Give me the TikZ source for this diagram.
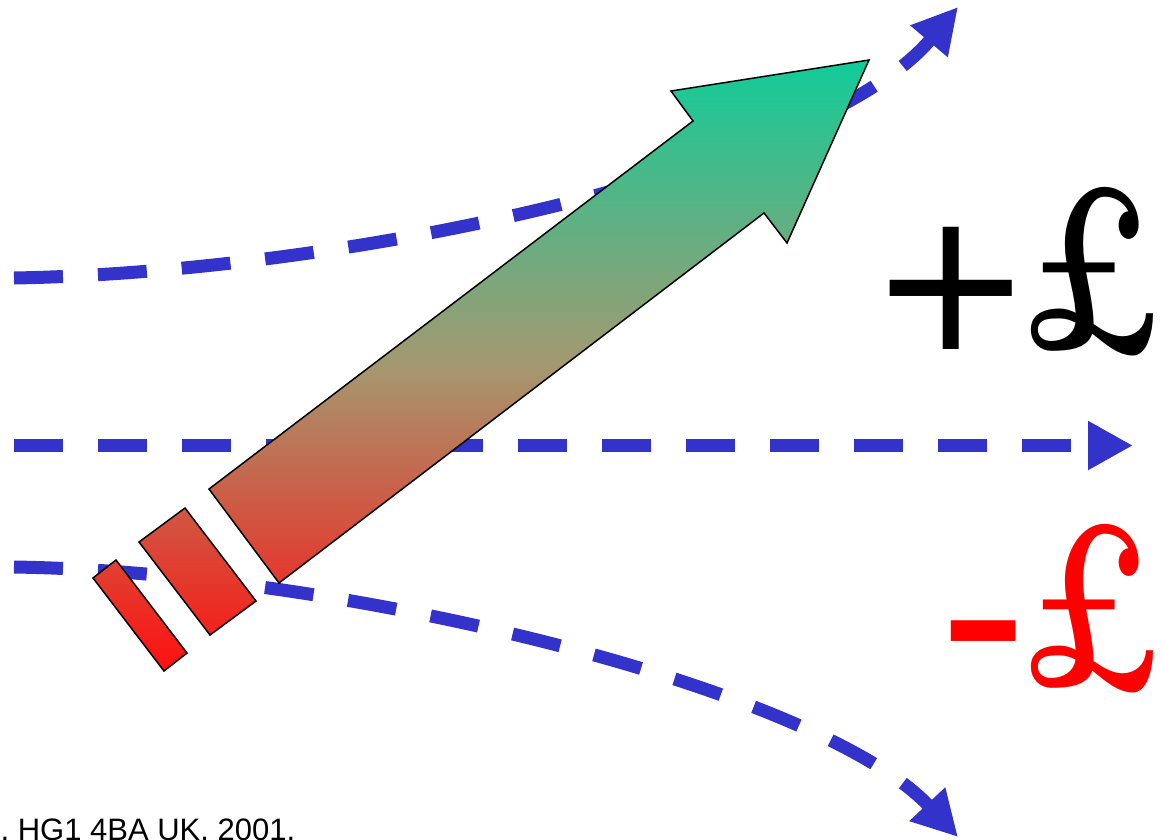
\documentclass[tikz,border=0pt]{standalone}
\usepackage{fontspec}
\newfontfamily\arialfont{Liberation Sans}
\newfontfamily\plusfont{DejaVu Sans}
\usetikzlibrary{arrows.meta}
\definecolor{flowblue}{RGB}{51,51,204}
\definecolor{gtop}{RGB}{17,204,153}
\definecolor{gmid}{RGB}{165,152,112}
\definecolor{gbot}{RGB}{255,16,16}
\tikzset{
  flow/.style={draw=flowblue, line width=13pt, dash pattern=on 49pt off 35pt,
    -{Triangle[length=45pt,width=46pt]}},
  outline/.style={draw=black, line width=1.5pt, line join=miter},
  biglabel/.style={anchor=base west, inner sep=0pt, outer sep=0pt},
}
\newcommand{\bigpound}{\scalebox{0.72}[1]{\fontsize{235pt}{235pt}\selectfont\bfseries £}}
\begin{document}
\begin{tikzpicture}[x=1pt,y=-1pt]
\useasboundingbox (0,0) rectangle (1164,839);
\coordinate (ts) at (14,278);   \coordinate (te) at (958,7);
\coordinate (ms) at (14,445.5); \coordinate (me) at (1133,445.5);
\coordinate (bs) at (14,567);   \coordinate (be) at (958,837);
\draw[flow] (ts) .. controls (350,272) and (820,170) .. (te);
\draw[flow] (ms) -- (me);
\draw[flow] (bs) .. controls (350,572) and (820,690) .. (be);
\path[outline, top color=gtop, bottom color=gbot, middle color=gmid]
  (209,489) -- (693,121) -- (671,91) -- (869,60) -- (787,243) -- (764,213) -- (279,583) -- cycle
  (139,542) -- (185,508) -- (256,601) -- (210,635) -- cycle
  (93,578) -- (116,560) -- (187,653) -- (164,671) -- cycle;
\node[biglabel, text=black] (gain) at (869,348)
  {{\plusfont\fontsize{195pt}{195pt}\selectfont\raisebox{-1pt}{+}}\kern-12pt\bigpound};
\node[biglabel, text=red] (loss) at (939,685)
  {{\arialfont\fontsize{265pt}{265pt}\selectfont\raisebox{-16pt}{-}}\kern-7pt\bigpound};
\node[anchor=base west, inner sep=0pt, font=\arialfont\fontsize{31pt}{31pt}\selectfont] (foot) at (0.4,840.5)
  {, HG1 4BA UK. 2001.};
\end{tikzpicture}
\end{document}
